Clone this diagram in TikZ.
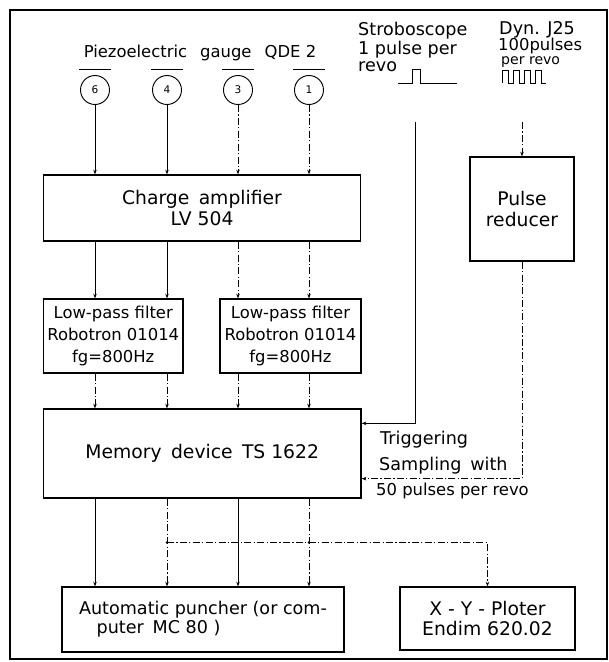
\documentclass[tikz,border=0pt]{standalone}
\usepackage{fontspec}
\setmainfont{DejaVu Sans}
\usetikzlibrary{arrows.meta,positioning,calc}

\begin{document}
\begin{tikzpicture}[
  x=0.03cm, y=-0.03cm,
  >={Stealth[length=4pt,width=3pt]},
  box/.style={draw, line width=1.1pt, inner sep=0pt, align=center, font=\fontsize{16}{18.7}\selectfont},
  sen/.style={circle, draw, line width=0.8pt, minimum size=0.87cm, inner sep=0pt, font=\fontsize{9}{9}\selectfont},
  txt/.style={inner sep=0pt, font=\fontsize{15}{15}\selectfont},
  ln/.style={line width=0.6pt},
  dd/.style={line width=0.6pt, dash pattern=on 6pt off 2pt on 1pt off 2pt}]
  \useasboundingbox (0,0) rectangle (609,662);
  \draw[line width=1.3pt] (10,10) rectangle (607,659);
  % sensors
  \foreach \n/\x in {6/95,4/167,3/238,1/309} {
    \node[sen] (s\n) at (\x,90) {\n};
    \draw[line width=1pt] ([xshift=-0.48cm,yshift=0.17cm]s\n.north) -- ([xshift=0.48cm,yshift=0.17cm]s\n.north);
  }
  \node[txt, font=\fontsize{14}{14}\selectfont] (pg) at (200,53) {Piezoelectric\hspace{0.8em}gauge\hspace{0.8em}QDE 2};
  % boxes
  \node[box, minimum width=9.51cm, minimum height=1.98cm] (amp) at (202,208) {Charge\enspace amplifier\\LV 504};
  \node[box, minimum width=4.185cm, minimum height=2.22cm, font=\fontsize{14}{18.7}\selectfont] (f1) at (113.25,336) {Low-pass filter\\Robotron 01014\\fg=800Hz};
  \node[box, minimum width=4.23cm, minimum height=2.22cm, font=\fontsize{14}{18.7}\selectfont] (f2) at (290.5,336) {Low-pass filter\\Robotron 01014\\fg=800Hz};
  \node[box, minimum width=9.525cm, minimum height=2.67cm] (mem) at (202.25,453.5) {Memory\enspace device\enspace TS 1622};
  \node[box, minimum width=3.12cm, minimum height=3.12cm] (red) at (522,209) {Pulse\\reducer};
  \node[box, minimum width=8.46cm, minimum height=1.95cm, align=left, font=\fontsize{15}{16}\selectfont] (pun) at (203,619.5) {Automatic puncher (or com-\\\quad puter\enspace MC 80 )};
  \node[box, minimum width=5.25cm, minimum height=1.89cm, font=\fontsize{16}{17}\selectfont] (plt) at (487.5,618.5) {X - Y - Ploter\\Endim 620.02};
  % pulse sources
  \node[txt, anchor=west, align=left, font=\fontsize{15}{14.5}\selectfont] (strb) at (358,47) {Stroboscope\\1 pulse per\\revo};
  \node[txt, anchor=west] (dyn) at (499,30) {Dyn. J25};
  \node[txt, anchor=west, font=\fontsize{14}{14}\selectfont] (dyn2) at (498,46) {100pulses};
  \node[txt, anchor=west, font=\fontsize{12}{12}\selectfont] (dyn3) at (501,62) {per revo};
  \draw[line width=0.8pt] (398,83) -- (412,83) -- (412,69) -- (420,69) -- (420,83) -- (457,83);
  \draw[line width=0.8pt] (502,83) \foreach \i in {0,1,2,3} { -- ++(0,-13) -- ++(6,0) -- ++(0,13) -- ++(5,0) };
  \coordinate (tr) at (415.5,122);
  \coordinate (dy) at (522,122);
  % connectors
  \foreach \n in {6,4} \draw[ln,->] (s\n) -- (s\n |- amp.north);
  \foreach \n in {3,1} \draw[dd,->] (s\n) -- (s\n |- amp.north);
  \draw[ln,->] (amp.south -| s6) -- (f1.north -| s6);
  \draw[ln,->] (amp.south -| s4) -- (f1.north -| s4);
  \draw[dd,->] (amp.south -| s3) -- (f2.north -| s3);
  \draw[dd,->] (amp.south -| s1) -- (f2.north -| s1);
  \foreach \n in {6,4} \draw[dd,->] (f1.south -| s\n) -- (mem.north -| s\n);
  \foreach \n in {3,1} \draw[dd,->] (f2.south -| s\n) -- (mem.north -| s\n);
  \foreach \n in {6,3} \draw[ln,->] (mem.south -| s\n) -- (pun.north -| s\n);
  \foreach \n in {4,1} \draw[dd,->] (mem.south -| s\n) -- (pun.north -| s\n);
  \coordinate (jy) at ($(mem.south)!0.5!(pun.north)$);
  \draw[dd,->] (jy -| s4) -| (plt.north);
  \foreach \n in {4,1} \fill (jy -| s\n) circle (1.2pt);
  \draw[ln,->] (tr) |- ([yshift=-0.45cm]mem.north east);
  \draw[dd,->] (dy) -- (red.north);
  \draw[dd,->] (red.south) |- ([yshift=0.6cm]mem.south east);
  \node[txt, anchor=west] (trg) at (380,440) {Triggering};
  \node[txt, anchor=west] (smp) at (379,466) {Sampling\enspace with};
  \node[txt, anchor=west, font=\fontsize{14}{14}\selectfont] (smp2) at (376,491) {50 pulses per revo};
\end{tikzpicture}
\end{document}
